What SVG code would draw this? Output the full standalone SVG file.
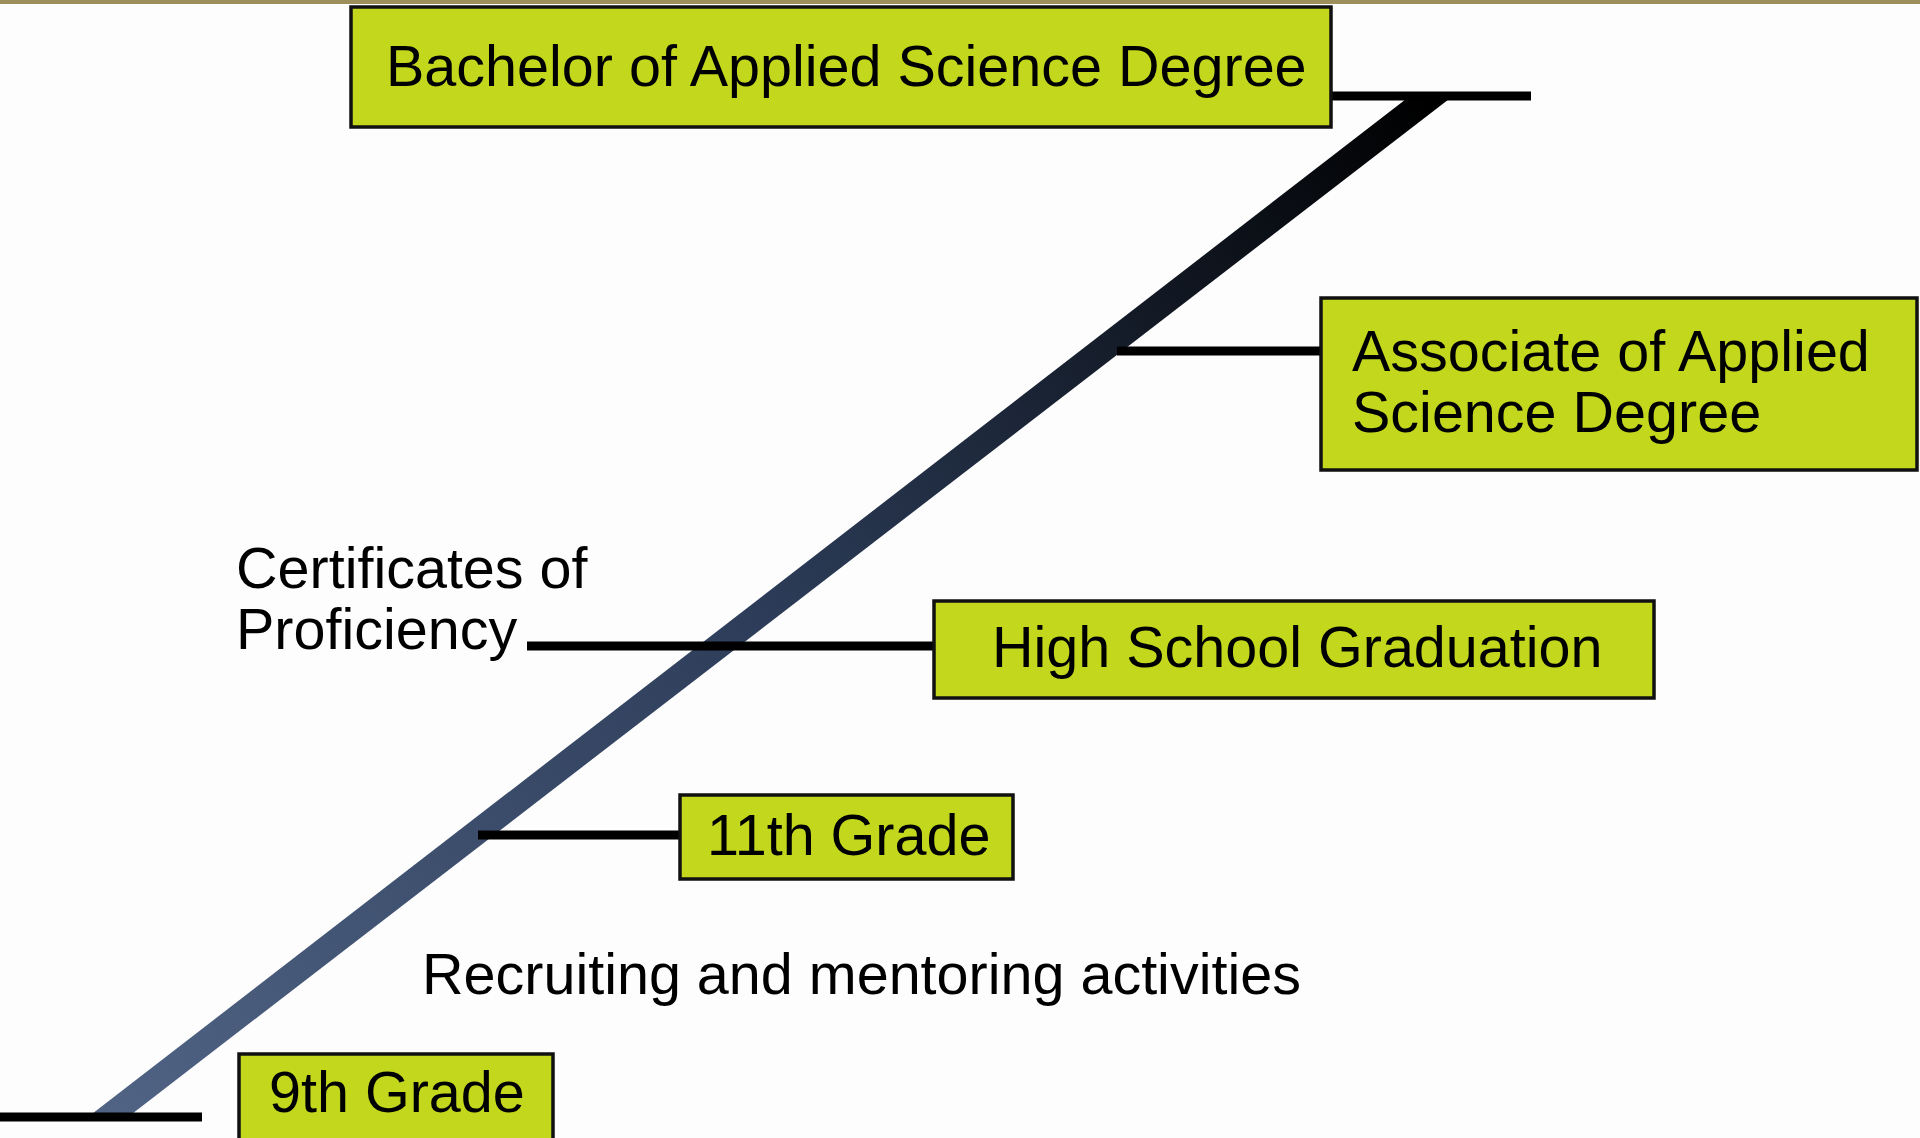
<svg xmlns="http://www.w3.org/2000/svg" width="1920" height="1138" viewBox="0 0 1920 1138">
<defs>
<linearGradient id="rail" x1="110" y1="1117" x2="1430" y2="96" gradientUnits="userSpaceOnUse">
<stop offset="0" stop-color="#506384"/>
<stop offset="0.5" stop-color="#2c3c58"/>
<stop offset="1" stop-color="#000000"/>
</linearGradient>
<style>
.box{fill:#c3d81c;stroke:#111;stroke-width:3.5}
.t{font-family:"Liberation Sans",Arial,sans-serif;font-size:57.5px;fill:#000}
.ln{stroke:#000;stroke-width:9;fill:none}
</style>
</defs>
<rect width="1920" height="1138" fill="#fdfdfd"/>
<rect x="0" y="0" width="1920" height="4" fill="#9c8f5b"/>
<g id="connectors">
<polygon points="88,1117 128,1117 1453,96 1410,96" fill="url(#rail)"/>
<line class="ln" x1="1331" y1="96" x2="1531" y2="96"/>
<line class="ln" x1="1117" y1="351" x2="1321" y2="351"/>
<line class="ln" x1="527" y1="646" x2="934" y2="646"/>
<line class="ln" x1="478" y1="835" x2="680" y2="835"/>
<line class="ln" x1="0" y1="1117" x2="202" y2="1117" stroke-width="10"/>
</g>
<g id="bachelor">
<rect class="box" x="351" y="7" width="980" height="120"/>
<text class="t" x="386" y="86">Bachelor of Applied Science Degree</text>
</g>
<g id="associate">
<rect class="box" x="1321" y="298" width="596" height="172"/>
<text class="t" x="1352" y="371">Associate of Applied</text>
<text class="t" x="1352" y="432">Science Degree</text>
</g>
<g id="certificates">
<text class="t" x="236" y="588">Certificates of</text>
<text class="t" x="236" y="649">Proficiency</text>
</g>
<g id="highschool">
<rect class="box" x="934" y="601" width="720" height="97"/>
<text class="t" x="992" y="667">High School Graduation</text>
</g>
<g id="grade11">
<rect class="box" x="680" y="795" width="333" height="84"/>
<text class="t" x="707" y="855">11th Grade</text>
</g>
<g id="recruiting">
<text class="t" x="422" y="994">Recruiting and mentoring activities</text>
</g>
<g id="grade9">
<rect class="box" x="239" y="1054" width="314" height="90"/>
<text class="t" x="269" y="1112">9th Grade</text>
</g>
</svg>
